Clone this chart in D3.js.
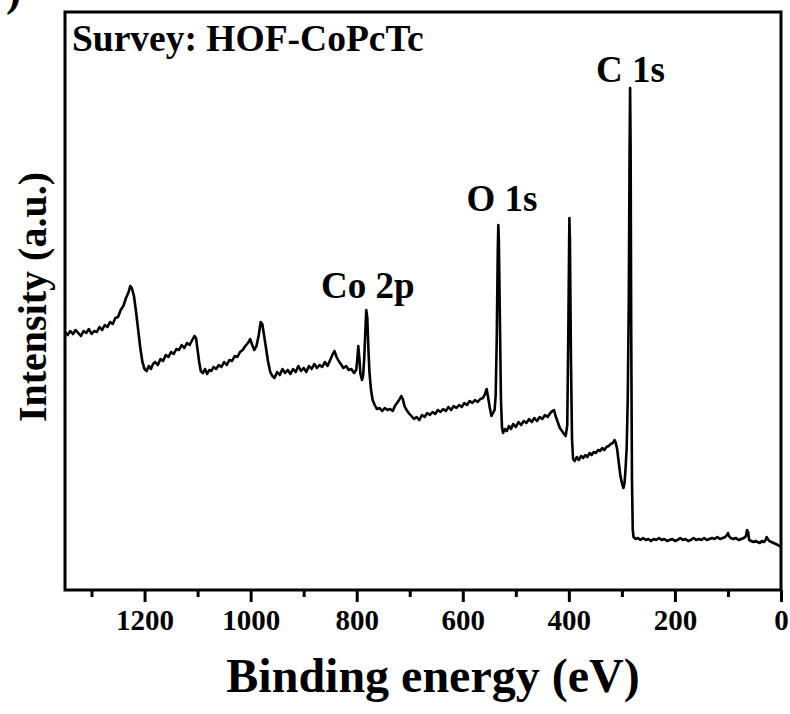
<!DOCTYPE html>
<html>
<head>
<meta charset="utf-8">
<script src="https://cdn.jsdelivr.net/npm/d3@7"></script>
<style>
  html, body { margin: 0; padding: 0; background: #fff; }
  svg text { font-family: "Liberation Serif", "Times New Roman", serif; font-weight: bold; fill: #000; }
</style>
</head>
<body>
<svg id="chart" width="790" height="714"></svg>
<script>
// XPS survey spectrum of HOF-CoPcTc: [binding energy (eV), intensity (a.u.)]
const survey = [
  [1350,258],[1345,255],[1340,259],[1335,256],[1330,260],[1325,257],[1320,254],[1315,259],[1310,257],[1305,261],
  [1300,256],[1295,259],[1290,258],[1285,263],[1280,260],[1275,265],[1270,263],[1265,268],[1260,266],[1255,272],
  [1250,273],[1245,280],[1240,284],[1235,292],[1230,298],[1227,304],[1224,302],[1220,294],[1216,278],[1212,260],
  [1208,242],[1204,228],[1200,221],[1196,219],[1192,224],[1188,221],[1184,226],[1180,228],[1175,225],[1170,231],
  [1165,229],[1160,235],[1155,233],[1150,238],[1145,236],[1140,241],[1135,240],[1130,245],[1125,242],[1120,247],
  [1115,245],[1110,250],[1106,254],[1103,252],[1100,240],[1097,228],[1094,219],[1090,217],[1086,221],[1082,216],
  [1078,220],[1074,219],[1070,223],[1065,221],[1060,225],[1055,223],[1050,228],[1045,225],[1040,230],[1035,229],
  [1030,234],[1025,233],[1020,238],[1015,240],[1010,244],[1005,247],[1001,251],[997,245],[993,240],[989,244],
  [985,254],[981,268],[978,266],[975,256],[971,242],[967,228],[963,218],[959,214],[955,212],[950,218],
  [945,215],[940,221],[935,217],[930,220],[925,216],[920,221],[915,218],[910,224],[905,219],[900,222],
  [895,218],[890,224],[885,221],[880,226],[875,222],[870,225],[865,223],[860,228],[855,224],[850,230],
  [846,235],[842,239],[838,233],[834,229],[830,226],[825,222],[820,224],[815,220],[810,221],[805,217],
  [801,220],[799,230],[797,244],[795,232],[793,216],[790,210],[788,214],[786,230],[784,255],[782,280],
  [780,272],[778,242],[776,218],[773,200],[770,190],[766,185],[762,181],[757,182],[752,179],[747,182],
  [742,180],[737,181],[732,179],[728,184],[724,187],[720,190],[716,194],[713,191],[710,184],[706,180],
  [702,177],[697,174],[692,171],[687,173],[682,170],[677,175],[672,173],[667,177],[662,175],[657,178],
  [652,176],[647,180],[642,178],[637,181],[632,179],[627,183],[622,180],[617,184],[612,182],[607,185],
  [602,183],[597,187],[592,185],[587,189],[582,187],[577,190],[572,188],[567,191],[562,192],[558,196],
  [555,201],[552,192],[549,182],[546,174],[543,177],[540,180],[538,194],[536,250],[534,340],[533,365],
  [532,350],[530,270],[528,190],[526,162],[524,157],[521,161],[517,159],[513,164],[509,161],[505,166],
  [500,163],[495,168],[490,165],[485,169],[480,167],[475,171],[470,168],[465,172],[460,169],[455,173],
  [450,171],[445,175],[440,173],[435,177],[431,179],[428,180],[425,174],[421,168],[417,162],[413,159],
  [409,156],[406,154],[403,165],[401,260],[399,372],[398,350],[396,230],[394,150],[392,131],[389,129],
  [385,133],[381,130],[377,134],[373,132],[369,135],[365,133],[361,137],[357,135],[353,138],[349,137],
  [345,140],[341,139],[337,142],[333,140],[329,143],[325,144],[321,146],[317,147],[314,150],[312,148],
  [309,141],[306,128],[303,115],[300,107],[297,102],[295,107],[293,122],[291,142],[289,190],[287,290],
  [285.5,440],[284.5,502],[283.5,440],[282.5,270],[281,110],[279.5,60],[278,53],[274,51],[270,52],[265,50],
  [260,52],[255,50],[250,51],[245,49],[240,51],[235,50],[230,52],[225,50],[220,51],[215,49],
  [210,50],[205,51],[200,49],[195,50],[190,52],[185,50],[180,51],[175,49],[170,50],[165,52],
  [160,50],[155,51],[150,50],[145,52],[140,50],[135,51],[130,52],[125,51],[120,53],[115,51],
  [110,52],[105,53],[102,55],[100,57],[98,54],[95,52],[90,51],[85,52],[80,50],[75,51],
  [70,52],[66,54],[64,60],[62,58],[60,50],[56,49],[52,48],[48,49],[44,48],[40,47],
  [36,49],[32,48],[29,50],[27,53],[25,51],[22,49],[18,48],[14,47],[10,46],[6,45],
  [3,44],[0,43]
];

const majorTicks = [1200, 1000, 800, 600, 400, 200, 0];
const minorTicks = [1300, 1100, 900, 700, 500, 300, 100];

// Peak assignments: [label, binding energy of the label centre (eV), intensity of the label baseline]
const peakLabels = [
  ["Co 2p", 779, 292],
  ["O 1s", 526, 379],
  ["C 1s", 284, 508]
];

const sampleName = "Survey: HOF-CoPcTc";
const xTitle = "Binding energy (eV)";
const yTitle = "Intensity (a.u.)";

const svg = d3.select("#chart");
const plot = { left: 65, right: 781, top: 12, bottom: 590 };

const x = d3.scaleLinear().domain([1350, 0]).range([plot.left, plot.right]);
const y = d3.scaleLinear().domain([0, 578]).range([plot.bottom, plot.top]);

// panel letter, mostly clipped by the page edge
svg.append("text").attr("x", 6).attr("y", 5).attr("font-size", 46).text(")");

// spectrum trace
const line = d3.line().x(d => x(d[0])).y(d => y(d[1]));
svg.append("path")
  .datum(survey)
  .attr("fill", "none")
  .attr("stroke", "#000")
  .attr("stroke-width", 2.6)
  .attr("stroke-linejoin", "round")
  .attr("d", line);

// bottom axis: labelled major ticks and unlabelled minor ticks
const axisMajor = d3.axisBottom(x).tickValues(majorTicks).tickSize(12).tickPadding(7).tickFormat(d3.format("d"));
const axisMinor = d3.axisBottom(x).tickValues(minorTicks).tickSize(7).tickFormat("");

const gMinor = svg.append("g").attr("transform", `translate(0,${plot.bottom})`).call(axisMinor);
const gMajor = svg.append("g").attr("transform", `translate(0,${plot.bottom})`).call(axisMajor);
[gMinor, gMajor].forEach(g => {
  g.select(".domain").remove();
  g.selectAll(".tick line").attr("stroke", "#000").attr("stroke-width", 3);
});
gMajor.selectAll(".tick text")
  .attr("font-size", 29)
  .attr("font-family", "Liberation Serif, serif")
  .attr("font-weight", "bold")
  .attr("fill", "#000");

// plot frame
svg.append("rect")
  .attr("x", plot.left).attr("y", plot.top)
  .attr("width", plot.right - plot.left).attr("height", plot.bottom - plot.top)
  .attr("fill", "none").attr("stroke", "#000").attr("stroke-width", 3);

// sample name
svg.append("text").attr("x", 72).attr("y", 51).attr("font-size", 37.5).text(sampleName);

// peak labels
svg.selectAll("text.peak")
  .data(peakLabels)
  .join("text")
  .attr("class", "peak")
  .attr("x", d => x(d[1]))
  .attr("y", d => y(d[2]))
  .attr("text-anchor", "middle")
  .attr("font-size", 37)
  .text(d => d[0]);

// axis titles
svg.append("text")
  .attr("x", (plot.left + plot.right) / 2 + 10).attr("y", 692)
  .attr("text-anchor", "middle").attr("font-size", 48)
  .text(xTitle);

svg.append("text")
  .attr("transform", `translate(46,${(plot.top + plot.bottom) / 2 - 4}) rotate(-90)`)
  .attr("text-anchor", "middle").attr("font-size", 40)
  .text(yTitle);
</script>
</body>
</html>
